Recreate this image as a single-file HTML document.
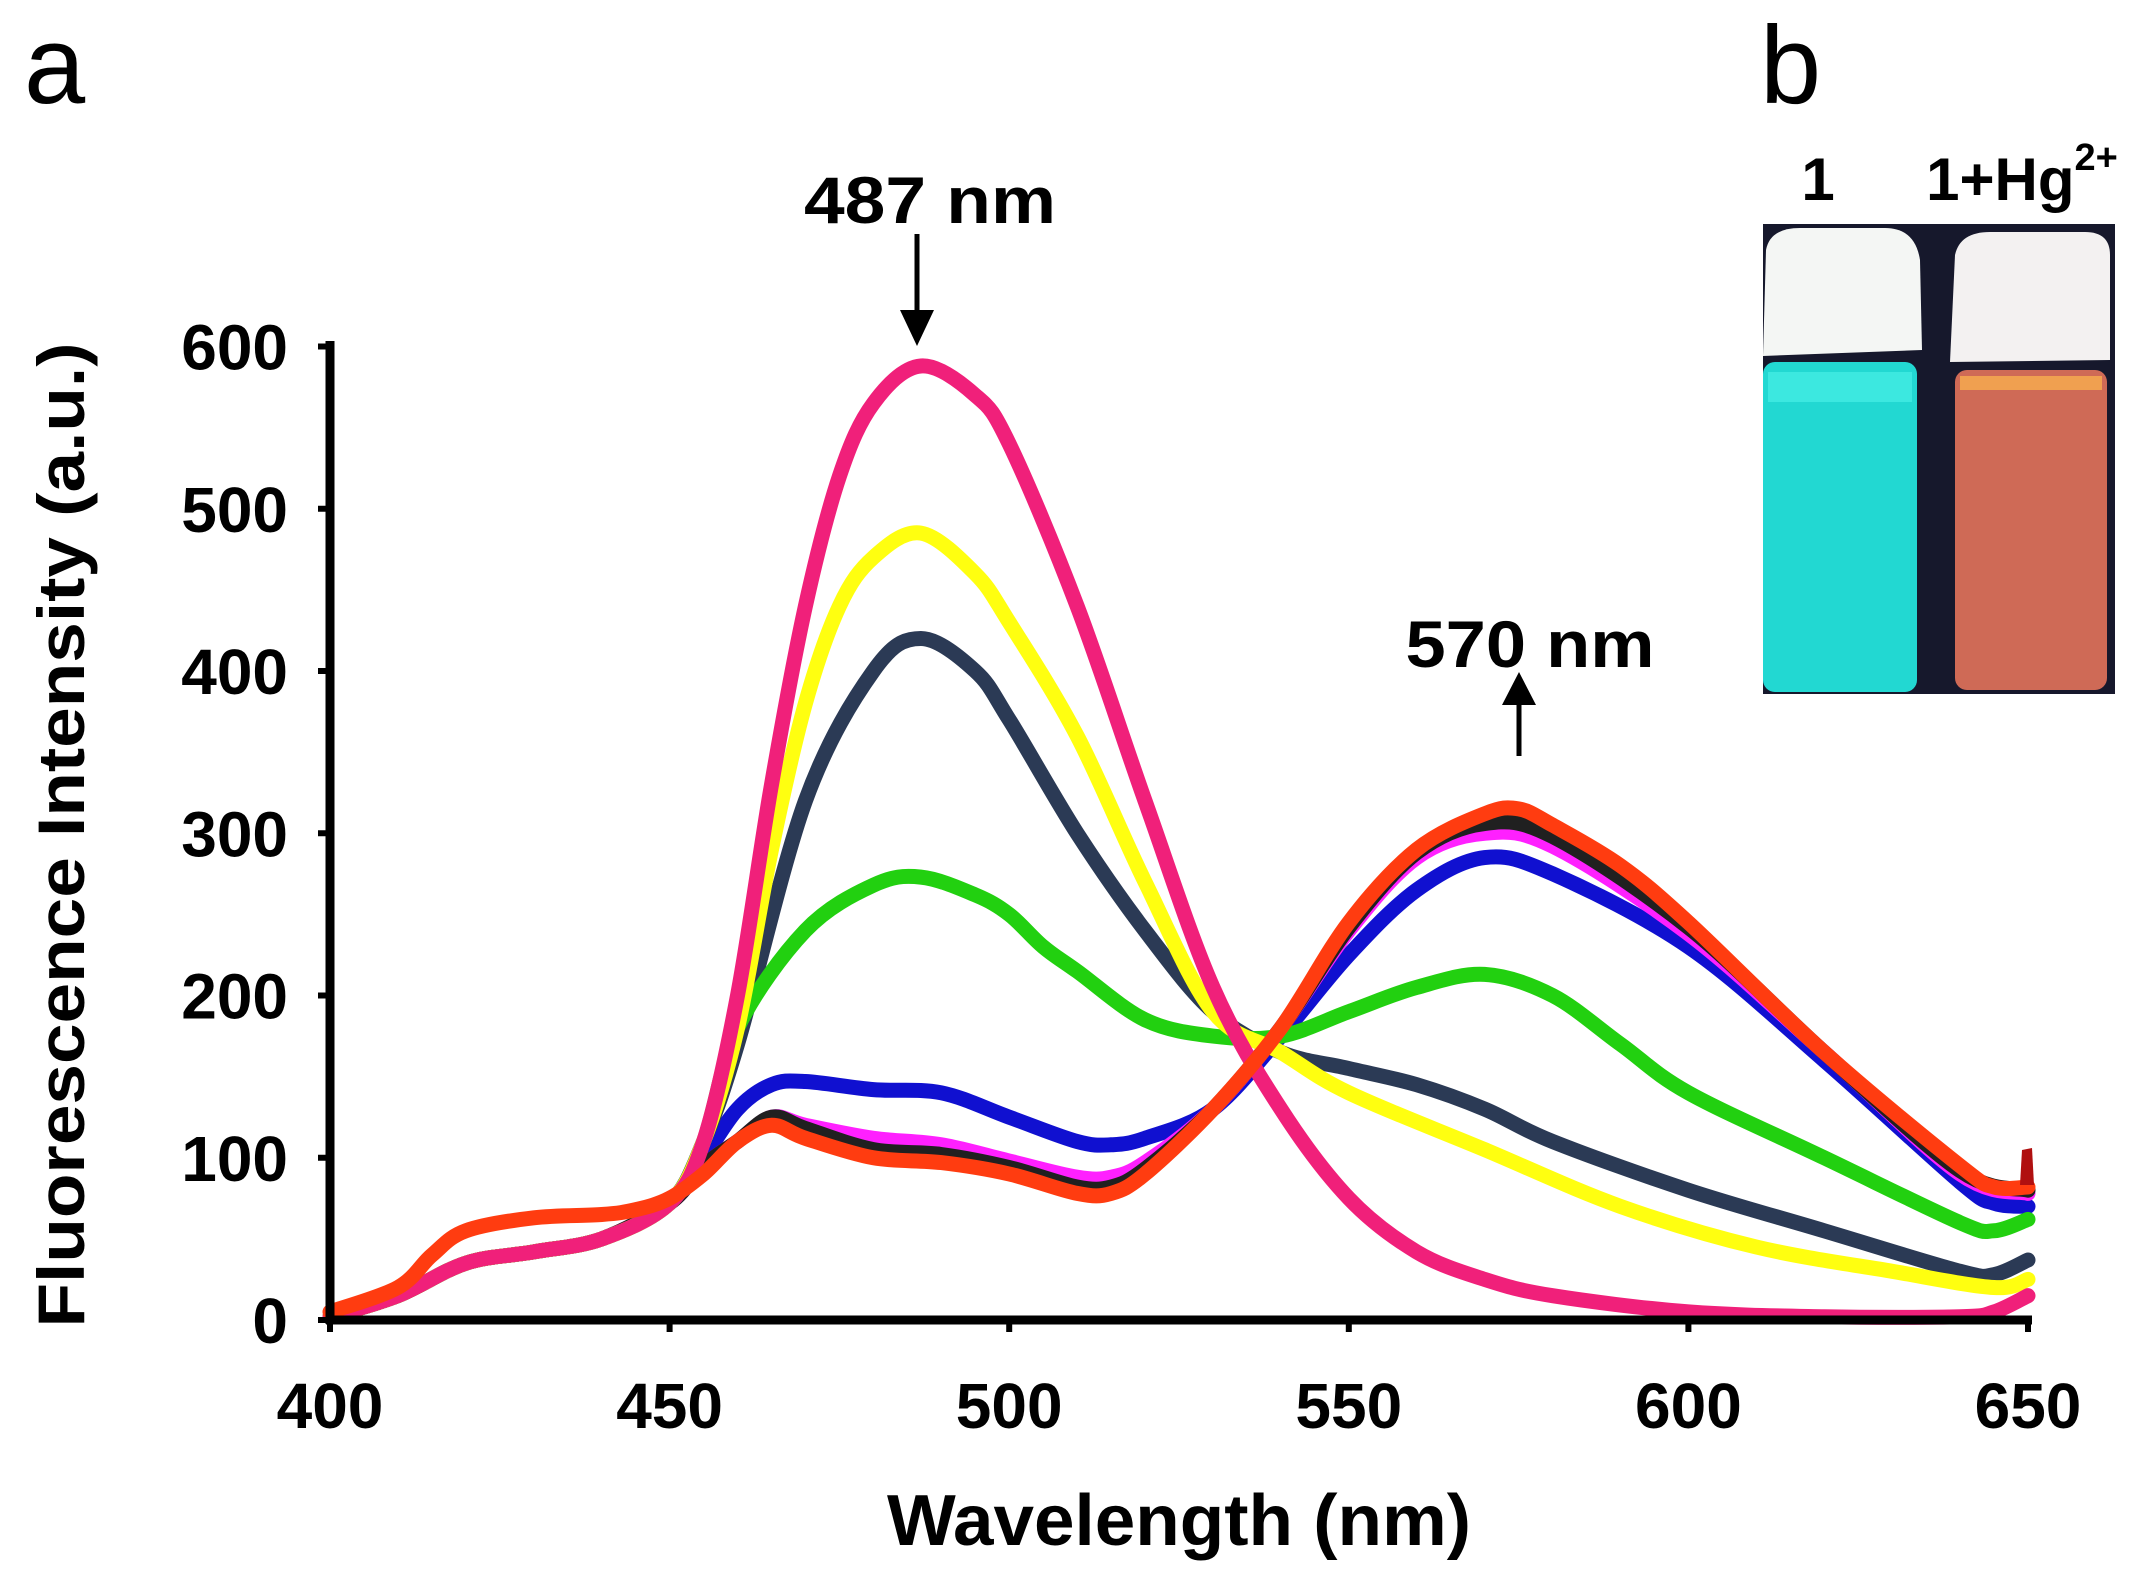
<!DOCTYPE html>
<html><head><meta charset="utf-8"><style>
html,body{margin:0;padding:0;background:#fff;}
svg{display:block;}
text{font-family:"Liberation Sans",Arial,sans-serif;}
</style></head><body>
<svg id="s" width="2156" height="1580" viewBox="0 0 2156 1580" xmlns="http://www.w3.org/2000/svg">
<text x="24" y="103" font-size="110" fill="#000">a</text>
<text x="1760" y="103" font-size="110" fill="#000">b</text>
<rect x="1763" y="224" width="352" height="470" fill="#16182c"/>
<path d="M1766,250 Q1770,228 1800,228 L1885,228 Q1915,228 1920,260 L1922,350 L1763,356 Z" fill="#f4f6f4"/>
<rect x="1763" y="362" width="154" height="330" rx="12" fill="#22d8d2"/>
<rect x="1768" y="372" width="144" height="30" fill="#3ce8e0"/>
<path d="M1955,255 Q1960,232 1990,232 L2085,232 Q2110,232 2110,255 L2110,360 L1950,362 Z" fill="#f3f1f1"/>
<rect x="1955" y="370" width="152" height="320" rx="12" fill="#cf6a56"/>
<rect x="1960" y="376" width="142" height="14" fill="#f0a050"/>
<text x="1818" y="200" font-size="60" font-weight="bold" text-anchor="middle">1</text>
<text x="2022" y="200" font-size="60" font-weight="bold" text-anchor="middle">1+Hg<tspan font-size="38" dy="-30">2+</tspan></text>
<g id="curves"></g>
<line x1="330" y1="341" x2="330" y2="1324" stroke="#000" stroke-width="9"/>
<line x1="326" y1="1320" x2="2032" y2="1320" stroke="#000" stroke-width="9"/>
<g id="ticks" stroke="#000" stroke-width="6"></g>
<g id="lbl" font-size="64" font-weight="bold"></g>
<text x="1179" y="1545" font-size="72" font-weight="bold" text-anchor="middle" textLength="584" lengthAdjust="spacingAndGlyphs">Wavelength (nm)</text>
<text transform="translate(84,835) rotate(-90)" font-size="66" font-weight="bold" text-anchor="middle" textLength="985" lengthAdjust="spacingAndGlyphs">Fluorescence Intensity (a.u.)</text>
<text x="930" y="223" font-size="66" font-weight="bold" text-anchor="middle" textLength="252" lengthAdjust="spacingAndGlyphs">487 nm</text>
<text x="1530" y="667" font-size="66" font-weight="bold" text-anchor="middle" textLength="249" lengthAdjust="spacingAndGlyphs">570 nm</text>
<line x1="917" y1="234" x2="917" y2="315" stroke="#000" stroke-width="5"/>
<polygon points="900,310 934,310 917,346" fill="#000"/>
<line x1="1519" y1="756" x2="1519" y2="700" stroke="#000" stroke-width="5"/>
<polygon points="1502,705 1536,705 1519,672" fill="#000"/>
</svg>
<script>
var X=function(w){return 330+(w-400)*6.792;},Y=function(v){return 1320-v*1.6225;};
var base=[[400,2],[410,15],[420,35],[430,42],[440,50],[450,72]];
var S=[
["#1010d0",base.concat([[455,100],[460,130],[465,145],[470,147],[480,142],[490,140],[500,125],[510,110],[515,108],[520,112],[530,130],[540,175],[550,225],[560,265],[570,285],[580,275],[600,230],[620,160],[640,85],[645,72],[650,70]])],
["#ff20ff",base.concat([[455,95],[460,110],[465,125],[470,120],[480,112],[490,108],[500,98],[510,88],[515,88],[520,97],[530,130],[540,180],[550,240],[560,285],[570,300],[580,292],[600,238],[620,165],[640,90],[650,78]])],
["#202020",base.concat([[455,95],[460,110],[465,125],[470,118],[480,105],[490,102],[500,94],[510,82],[515,82],[520,93],[530,130],[540,180],[550,242],[560,288],[570,306],[580,298],[600,242],[620,165],[640,92],[650,80]])],
["#2b3a55",base.concat([[455,110],[460,170],[470,320],[480,400],[487,420],[495,400],[500,370],[510,300],[520,240],[530,190],[540,165],[550,155],[560,145],[570,130],[580,110],[600,80],[620,55],[640,30],[645,28],[650,37]])],
["#22d010",base.concat([[455,110],[460,180],[470,240],[480,268],[487,273],[495,262],[500,250],[505,230],[510,215],[520,185],[530,175],[540,175],[550,190],[560,205],[570,213],[580,200],[590,170],[600,140],[620,100],[640,60],[645,55],[650,62]])],
["#ffff10",base.concat([[455,110],[460,180],[465,290],[470,380],[475,440],[480,470],[487,485],[495,460],[500,430],[510,360],[520,270],[530,190],[540,165],[550,140],[570,105],[590,70],[610,45],[630,30],[645,20],[650,25]])],
["#f0207a",base.concat([[455,110],[460,200],[465,330],[470,440],[475,520],[480,565],[487,588],[495,570],[500,540],[510,440],[520,320],[530,205],[540,130],[550,75],[560,42],[570,25],[580,15],[600,5],[620,2],[640,2],[645,5],[650,15]])],
["#ff3c10",[[400,5],[410,20],[415,40],[420,55],[430,63],[440,65],[445,68],[450,75],[455,90],[460,110],[465,120],[470,112],[480,100],[490,97],[500,90],[510,78],[515,78],[520,90],[530,130],[540,180],[550,245],[560,290],[570,312],[575,315],[580,305],[590,280],[600,245],[620,165],[640,95],[645,82],[650,82]]]
];
function path(p){var q=p.map(function(a){return [X(a[0]),Y(a[1])];});var d="M"+q[0][0].toFixed(1)+","+q[0][1].toFixed(1);
for(var i=0;i<q.length-1;i++){var p0=q[i-1]||q[i],p1=q[i],p2=q[i+1],p3=q[i+2]||p2;
d+=" C"+(p1[0]+(p2[0]-p0[0])/6).toFixed(1)+","+(p1[1]+(p2[1]-p0[1])/6).toFixed(1)+" "+(p2[0]-(p3[0]-p1[0])/6).toFixed(1)+","+(p2[1]-(p3[1]-p1[1])/6).toFixed(1)+" "+p2[0].toFixed(1)+","+p2[1].toFixed(1);}return d;}
var ns="http://www.w3.org/2000/svg",g=document.getElementById("curves");
S.forEach(function(s){var e=document.createElementNS(ns,"path");e.setAttribute("d",path(s[1]));e.setAttribute("fill","none");e.setAttribute("stroke",s[0]);e.setAttribute("stroke-width","15");e.setAttribute("stroke-linejoin","round");e.setAttribute("stroke-linecap","round");g.appendChild(e);});
var sp=document.createElementNS(ns,"path");sp.setAttribute("d","M2020,1185 L2022,1150 L2032,1148 L2034,1185 Z");sp.setAttribute("fill","#b01010");g.appendChild(sp);
var t=document.getElementById("ticks"),l=document.getElementById("lbl");
for(var v=0;v<=600;v+=100){var ln=document.createElementNS(ns,"line");ln.setAttribute("x1",318);ln.setAttribute("x2",330);ln.setAttribute("y1",Y(v));ln.setAttribute("y2",Y(v));t.appendChild(ln);
var tx=document.createElementNS(ns,"text");tx.setAttribute("x",288);tx.setAttribute("y",Y(v)+23);tx.setAttribute("text-anchor","end");tx.textContent=v;l.appendChild(tx);}
for(var w=400;w<=650;w+=50){var ln2=document.createElementNS(ns,"line");ln2.setAttribute("x1",X(w));ln2.setAttribute("x2",X(w));ln2.setAttribute("y1",1320);ln2.setAttribute("y2",1332);t.appendChild(ln2);
var tx2=document.createElementNS(ns,"text");tx2.setAttribute("x",X(w));tx2.setAttribute("y",1428);tx2.setAttribute("text-anchor","middle");tx2.textContent=w;l.appendChild(tx2);}
</script>
</body></html>
